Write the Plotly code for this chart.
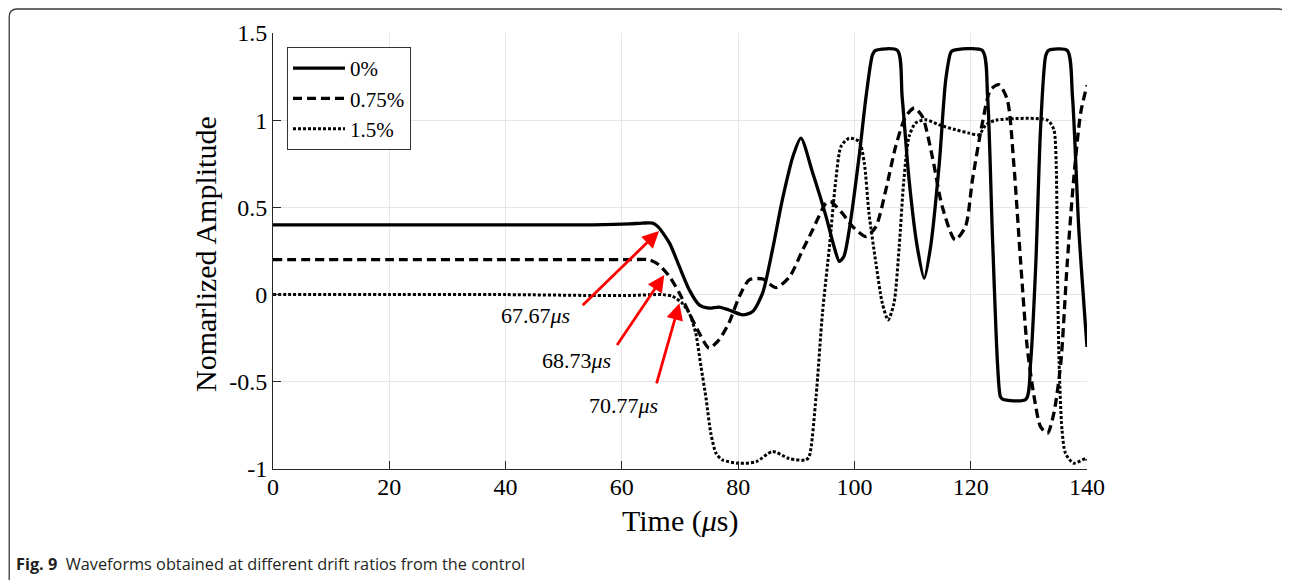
import plotly.graph_objects as go

# ---------------- data ----------------
t_0 = [0, 20, 40, 55, 61.3, 63.5, 65.3, 66.2, 68.2, 69.9, 71.6, 73.3, 75.0, 76.7, 78.4, 80.8,
       82.5, 84.2, 85.9, 87.6, 89.5, 90.8, 92.8, 95.1, 96.5, 97.4, 98.2, 99.1, 100.8, 102.0,
       103.1, 103.6, 107.4, 108.2, 109.4, 110.8, 112.0, 113.1, 114.6, 115.7, 116.6, 117.0,
       122.0, 122.9, 123.7, 124.6, 125.1, 125.5, 129.5, 130.3, 131.2, 132.0, 132.9, 133.4,
       136.6, 137.5, 138.6, 140]
y_0 = [0.40, 0.40, 0.40, 0.40, 0.405, 0.41, 0.41, 0.39, 0.295, 0.16, 0.027, -0.059, -0.078,
       -0.072, -0.088, -0.116, -0.097, 0.008, 0.256, 0.543, 0.80, 0.897, 0.70, 0.45, 0.275,
       0.19, 0.22, 0.37, 0.79, 1.136, 1.375, 1.40, 1.40, 1.136, 0.658, 0.275, 0.094, 0.275,
       0.754, 1.23, 1.39, 1.40, 1.40, 1.136, 0.37, -0.39, -0.585, -0.60, -0.60, -0.39, 0.18,
       0.945, 1.37, 1.40, 1.40, 1.136, 0.37, -0.30]

t_075 = [0, 20, 40, 55, 61.3, 64.7, 66.4, 68.2, 69.9, 71.6, 73.3, 75.0, 76.7, 78.4, 80.2, 81.9,
         84.2, 86.5, 88.8, 91.1, 92.8, 95.1, 95.9, 97.9, 99.7, 102.0, 103.7, 105.4, 107.1, 108.8,
         110.3, 111.7, 113.4, 115.1, 117.3, 119.1, 120.3, 122.0, 123.4, 124.9, 126.3, 127.4,
         128.6, 129.7, 130.9, 132.0, 133.2, 134.3, 135.5, 136.6, 137.7, 138.9, 140]
y_075 = [0.20, 0.20, 0.20, 0.20, 0.20, 0.20, 0.17, 0.103, 0.008, -0.107, -0.22, -0.307, -0.26,
         -0.164, -0.011, 0.084, 0.09, 0.04, 0.10, 0.256, 0.37, 0.524, 0.533, 0.467, 0.39, 0.333,
         0.39, 0.60, 0.85, 1.02, 1.07, 1.02, 0.79, 0.505, 0.314, 0.39, 0.658, 0.983, 1.174, 1.203,
         1.117, 0.754, 0.18, -0.298, -0.585, -0.757, -0.795, -0.68, -0.39, 0.18, 0.658, 1.04, 1.20]

t_15 = [0, 20, 40, 55, 61.3, 67.0, 68.7, 70.4, 71.6, 72.7, 73.6, 74.5, 75.3, 76.2, 77.3, 80.2,
        83.1, 85.9, 88.8, 91.6, 92.2, 93.4, 94.5, 95.7, 96.8, 97.7, 99.1, 100.8, 101.7, 102.5,
        103.7, 104.8, 105.8, 106.8, 107.7, 108.5, 109.4, 110.5, 112.3, 114.6, 117.4, 119.7,
        121.4, 122.6, 124.3, 133.2, 134.3, 134.7, 134.9, 135.2, 135.7, 136.3, 137.7, 139.8, 140]
y_15 = [0.0, 0.0, 0.0, -0.005, -0.005, 0.0, -0.01, -0.05, -0.107, -0.22, -0.41, -0.60, -0.795,
        -0.91, -0.948, -0.967, -0.958, -0.90, -0.94, -0.948, -0.93, -0.585, -0.107, 0.275, 0.658,
        0.85, 0.897, 0.878, 0.754, 0.467, 0.18, -0.05, -0.145, -0.05, 0.275, 0.658, 0.906, 0.983,
        1.002, 0.973, 0.945, 0.926, 0.916, 0.973, 1.0, 1.0, 0.945, 0.754, 0.18, -0.39, -0.776,
        -0.91, -0.967, -0.94, -0.95]

series_names = ["0%", "0.75%", "1.5%"]

# onset annotations
onset_labels = ["67.67", "68.73", "70.77"]
tip_x = [66.4, 67.3, 69.9]
tip_y = [0.365, 0.113, -0.049]
tail_x = [53.0, 59.0, 65.9]
tail_y = [-0.07, -0.298, -0.518]
text_x = [45.2, 52.2, 60.3]
text_y = [-0.122, -0.38, -0.638]

x_ticks = [0, 20, 40, 60, 80, 100, 120, 140]
y_ticks = [-1, -0.5, 0, 0.5, 1, 1.5]
y_ticktext = ["-1", "-0.5", "0", "0.5", "1", "1.5"]

# ---------------- layout geometry ----------------
OFF = 8                      # page body margin of the html page
W, H = 1290 - OFF, 580 - OFF
# plot area in reference-image pixels
PX0, PX1, PY0, PY1 = 273, 1087, 33, 469
L, T = PX0 - OFF, PY0 - OFF
R, B = W - (PX1 - OFF), H - (PY1 - OFF)
PW, PH = PX1 - PX0, PY1 - PY0

def px(xp):  # reference pixel x -> paper
    return (xp - PX0) / PW

def py(yp):  # reference pixel y -> paper
    return (PY1 - yp) / PH

serif = "Liberation Serif, Times New Roman, serif"

fig = go.Figure()
styles = [dict(color="black", width=3.3, dash="solid"),
          dict(color="black", width=3.3, dash="9px,5px"),
          dict(color="black", width=3.0, dash="3px,2px")]
for name, xs, ys, st in zip(series_names, [t_0, t_075, t_15], [y_0, y_075, y_15], styles):
    fig.add_trace(go.Scatter(x=xs, y=ys, name=name, mode="lines",
                             line=dict(shape="spline", smoothing=0.7, **st)))

annotations = []
for lab, tx, ty, ax, ay, lx, ly in zip(onset_labels, tip_x, tip_y, tail_x, tail_y, text_x, text_y):
    annotations.append(dict(x=tx, y=ty, ax=ax, ay=ay, xref="x", yref="y", axref="x", ayref="y",
                            text="", showarrow=True, arrowhead=2, arrowsize=1.2, arrowwidth=2.8,
                            arrowcolor="#ff0000", standoff=0, startstandoff=0))
    annotations.append(dict(x=lx, y=ly, xref="x", yref="y", showarrow=False,
                            xanchor="center", yanchor="middle",
                            text=lab + "<i>μs</i>", font=dict(family=serif, size=22, color="black")))

annotations.append(dict(x=0.5, y=py(521), xref="paper", yref="paper", showarrow=False,
                        xanchor="center", yanchor="middle",
                        text="Time (<i>μ</i>s)", font=dict(family=serif, size=30, color="black")))
annotations.append(dict(x=px(205), y=py(254), xref="paper", yref="paper", showarrow=False,
                        xanchor="center", yanchor="middle",
                        textangle=-90, text="Nomarlized Amplitude",
                        font=dict(family=serif, size=30, color="black")))
annotations.append(dict(x=px(14), y=py(564), xref="paper", yref="paper", showarrow=False,
                        xanchor="left", yanchor="middle",
                        text="<b>Fig. 9</b>  Waveforms obtained at different drift ratios from the control",
                        font=dict(family="Open Sans, sans-serif", size=16.3, color="#231f20")))

# rounded figure frame (open at the bottom); left edge kept inside the drawable page
r = 8
x_left, x_right, y_top = 9.2, 1286.5, 9
xl, xr, yt, yb = px(x_left), px(x_right), py(y_top), py(590)
frame = (f"M {xl} {yb} L {xl} {py(y_top + r)} Q {xl} {yt} {px(x_left + r)} {yt} "
         f"L {px(x_right - r)} {yt} Q {xr} {yt} {xr} {py(y_top + r)} L {xr} {yb}")

fig.update_layout(
    width=W, height=H, margin=dict(l=L, r=R, t=T, b=B),
    paper_bgcolor="white", plot_bgcolor="white",
    showlegend=True,
    legend=dict(x=px(287), y=py(47), xanchor="left", yanchor="top",
                bgcolor="white", bordercolor="#333333", borderwidth=1,
                font=dict(family=serif, size=21, color="black"),
                itemwidth=52, tracegroupgap=0),
    annotations=annotations,
    shapes=[dict(type="path", path=frame, xref="paper", yref="paper",
                 line=dict(color="#3a3a3a", width=1.3), layer="above")],
    xaxis=dict(range=[0, 140], tickvals=x_ticks, ticks="inside", ticklen=8,
               tickcolor="#262626", showline=True, linecolor="#262626", linewidth=1,
               showgrid=True, gridcolor="#e6e6e6", gridwidth=1, zeroline=False,
               ticklabelstandoff=-4,
               tickfont=dict(family=serif, size=24, color="black"), mirror=False),
    yaxis=dict(range=[-1, 1.5], tickvals=y_ticks, ticktext=y_ticktext, ticks="inside",
               ticklen=8, tickcolor="#262626", showline=True, linecolor="#262626",
               linewidth=1, showgrid=True, gridcolor="#e6e6e6", gridwidth=1, zeroline=False,
               tickfont=dict(family=serif, size=24, color="black"), mirror=False),
)

fig.write_html("out.html")
